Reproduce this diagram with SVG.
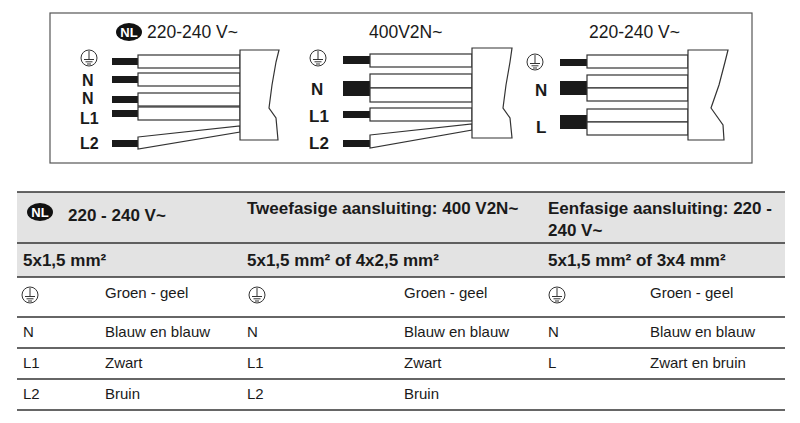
<svg xmlns="http://www.w3.org/2000/svg" width="800" height="423" viewBox="0 0 800 423">
<style>
text{font-family:"Liberation Sans",Arial,sans-serif;fill:#1a1a1a}
.b{font-weight:bold}
.w{fill:#fff;stroke:#333;stroke-width:1.2}
.s{fill:#1a1a1a}
.ln{stroke:#333;stroke-width:1.5}
.e{fill:none;stroke:#333;stroke-width:1}
</style>
<defs>
<g id="earth"><circle r="8" class="e"/><path d="M0,-7 V1.5 M-5,1.5 H5 M-3.5,3.8 H3.5 M-2,6 H2" class="e"/></g>
<g id="nl"><ellipse rx="13" ry="9" fill="#111"/><text x="0" y="5" text-anchor="middle" font-size="13" font-weight="bold" style="fill:#fff">NL</text></g>
</defs>
<rect x="50" y="13" width="702" height="150" fill="#fff" stroke="#555" stroke-width="1.2"/>
<g id="panel1">
<use href="#nl" x="129" y="32"/>
<text x="147" y="38" font-size="17.5">220-240 V~</text>
<use href="#earth" x="89" y="58"/>
<text x="82" y="86" font-size="16" class="b">N</text>
<text x="82" y="104" font-size="16" class="b">N</text>
<text x="80" y="124" font-size="16" class="b">L1</text>
<text x="80" y="149" font-size="16" class="b">L2</text>
<rect x="112" y="58" width="26" height="7" class="s"/><rect x="138" y="55" width="102" height="13" class="w"/>
<rect x="112" y="76" width="26" height="7" class="s"/><rect x="138" y="73" width="102" height="13" class="w"/>
<rect x="112" y="96" width="26" height="7" class="s"/><rect x="138" y="93" width="102" height="13" class="w"/>
<rect x="112" y="110" width="26" height="7" class="s"/><rect x="138" y="107" width="102" height="13" class="w"/>
<rect x="112" y="140" width="26" height="7" class="s"/><path d="M138,137 L240,126 L240,132 L138,149 Z" class="w"/>
<path d="M240,50 H279 L276,62 L272,85 L269,108 L276,118 L278,140 H240 Z" class="w"/>
</g>
<g id="panel2">
<text x="369" y="38" font-size="17.5">400V2N~</text>
<use href="#earth" x="318" y="58"/>
<text x="311" y="95" font-size="17" class="b">N</text>
<text x="309" y="122" font-size="17" class="b">L1</text>
<text x="309" y="149" font-size="17" class="b">L2</text>
<rect x="343" y="56" width="27" height="8" class="s"/><rect x="370" y="54" width="102" height="13" class="w"/>
<rect x="343" y="81" width="27" height="15" class="s"/><rect x="370" y="74" width="102" height="14" class="w"/><rect x="370" y="88" width="102" height="14" class="w"/>
<rect x="343" y="111" width="27" height="7" class="s"/><rect x="370" y="108" width="102" height="13" class="w"/>
<rect x="343" y="140" width="27" height="7" class="s"/><path d="M370,135 L472,124 L472,130 L370,148 Z" class="w"/>
<path d="M472,48 H512 L510,62 L506,85 L503,108 L510,118 L512,138 H472 Z" class="w"/>
</g>
<g id="panel3">
<text x="589" y="38" font-size="17.5">220-240 V~</text>
<use href="#earth" x="535" y="62"/>
<text x="535" y="96" font-size="17" class="b">N</text>
<text x="536" y="133" font-size="17" class="b">L</text>
<rect x="560" y="59" width="27" height="7" class="s"/><rect x="587" y="55" width="101" height="13" class="w"/>
<rect x="560" y="81" width="27" height="14" class="s"/><rect x="587" y="75" width="101" height="13" class="w"/><rect x="587" y="88" width="101" height="13" class="w"/>
<rect x="560" y="115" width="27" height="14" class="s"/><rect x="587" y="109" width="101" height="13" class="w"/><rect x="587" y="122" width="101" height="13" class="w"/>
<path d="M688,50 H728 L725,62 L719,85 L711,108 L723,125 L724,140 H688 Z" class="w"/>
</g>
<g id="table">
<rect x="17" y="192" width="768" height="85" fill="#e3e3e3"/>
<line x1="17" y1="192" x2="785" y2="192" class="ln"/>
<line x1="17" y1="243" x2="785" y2="243" class="ln"/>
<line x1="17" y1="277" x2="785" y2="277" class="ln"/>
<line x1="17" y1="317" x2="785" y2="317" class="ln"/>
<line x1="17" y1="348" x2="785" y2="348" class="ln"/>
<line x1="17" y1="379" x2="785" y2="379" class="ln"/>
<line x1="17" y1="410" x2="785" y2="410" class="ln"/>
<use href="#nl" x="40" y="212"/>
<text x="68" y="221" font-size="17" class="b">220 - 240 V~</text>
<text x="247" y="214" font-size="17" class="b">Tweefasige aansluiting: 400 V2N~</text>
<text x="548" y="214" font-size="17" class="b">Eenfasige aansluiting: 220 -</text>
<text x="548" y="236" font-size="17" class="b">240 V~</text>
<text x="23" y="266" font-size="17" class="b">5x1,5 mm²</text>
<text x="247" y="266" font-size="17" class="b">5x1,5 mm² of 4x2,5 mm²</text>
<text x="548" y="266" font-size="17" class="b">5x1,5 mm² of 3x4 mm²</text>
<use href="#earth" x="30" y="295"/><use href="#earth" x="257" y="295"/><use href="#earth" x="557" y="295"/>
<g font-size="15">
<text x="105" y="298">Groen - geel</text><text x="404" y="298">Groen - geel</text><text x="650" y="298">Groen - geel</text>
<text x="23" y="337">N</text><text x="105" y="337">Blauw en blauw</text><text x="247" y="337">N</text><text x="404" y="337">Blauw en blauw</text><text x="548" y="337">N</text><text x="650" y="337">Blauw en blauw</text>
<text x="23" y="368">L1</text><text x="105" y="368">Zwart</text><text x="247" y="368">L1</text><text x="404" y="368">Zwart</text><text x="548" y="368">L</text><text x="650" y="368">Zwart en bruin</text>
<text x="23" y="399">L2</text><text x="105" y="399">Bruin</text><text x="247" y="399">L2</text><text x="404" y="399">Bruin</text>
</g>
</g>
</svg>
